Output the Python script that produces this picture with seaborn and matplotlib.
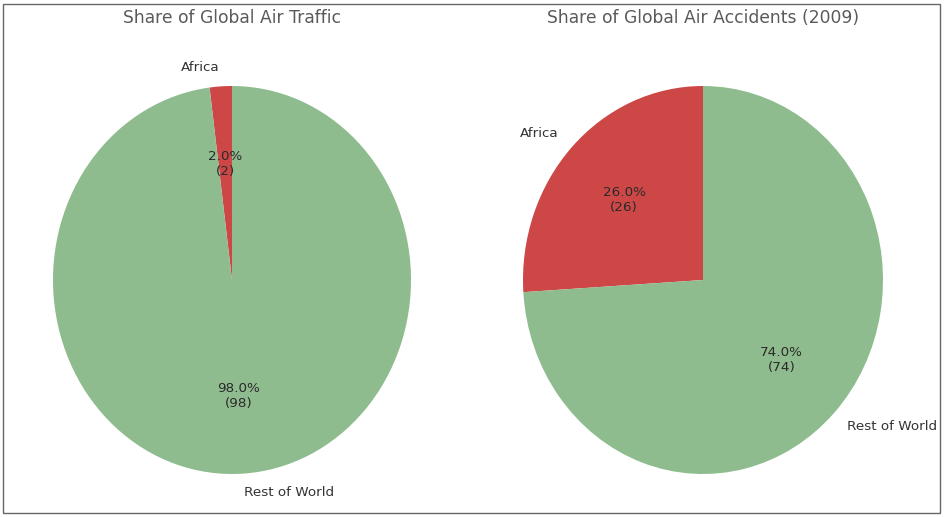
import matplotlib
matplotlib.use("Agg")
import matplotlib.pyplot as plt
from matplotlib.patches import Rectangle
import seaborn as sns

sns.set_theme(style="white")
plt.rcParams['font.family'] = ['DejaVu Sans']

labels = ["Africa", "Rest of World"]
traffic = [2, 98]
accidents = [26, 74]
titles = ["Share of Global Air Traffic", "Share of Global Air Accidents (2009)"]
colors = ["#cd4747", "#8fbc8f"]

W, H = 949, 517
fig = plt.figure(figsize=(W / 100, H / 100), dpi=100)


def fmt(vals):
    total = sum(vals)
    return lambda p: "{:.1f}%\n({:d})".format(p, int(round(p * total / 100)))


# pie centres / radii in pixels (picture is a bit stretched vertically)
specs = [(232, 280, 179, 194), (703, 280, 180, 194)]
lim = 1.2
for i, (vals, title) in enumerate(zip([traffic, accidents], titles)):
    cx, cy, rx, ry = specs[i]
    ax = fig.add_axes([(cx - lim * rx) / W, (H - cy - lim * ry) / H,
                       2 * lim * rx / W, 2 * lim * ry / H])
    wedges, texts, autotexts = ax.pie(vals, labels=labels, colors=colors,
                                      startangle=90, autopct=fmt(vals),
                                      wedgeprops={"linewidth": 0},
                                      textprops={"fontsize": 9.7, "color": "#333333"})
    for t in autotexts:
        t.set_color("#2a2a2a")
    ax.set_aspect("auto")
    ax.set_xlim(-lim, lim)
    ax.set_ylim(-lim, lim)
    fig.text(cx / W, 1 - 18 / H, title, ha="center", va="center",
             fontsize=12.3, color="#5a5a5a")

fig.patches.append(Rectangle((3 / W, 4 / H), 937 / W, 509 / H,
                             transform=fig.transFigure, fill=False,
                             edgecolor="#666666", lw=1))

fig.savefig("out.png", dpi=100)
